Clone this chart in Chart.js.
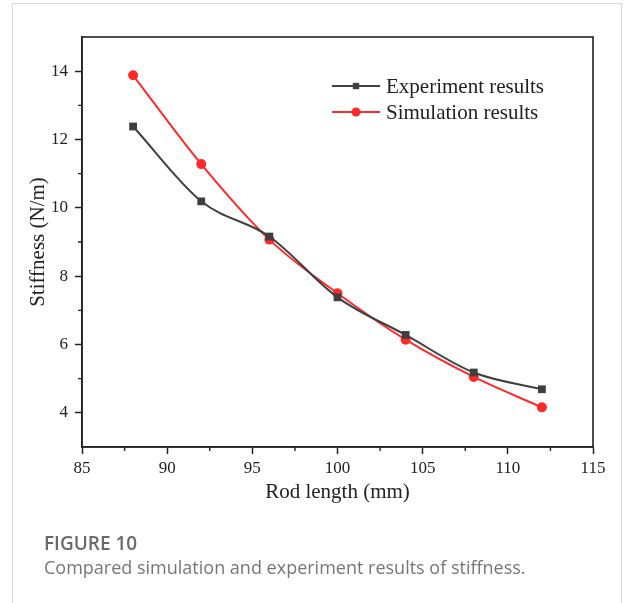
<!DOCTYPE html>
<html>
<head>
<meta charset="utf-8">
<script src="https://cdn.jsdelivr.net/npm/chart.js@4"></script>
<style>
  html, body { margin: 0; padding: 0; background: #fff; width: 624px; height: 603px; overflow: hidden; }
  #frame { position: absolute; left: 12px; top: 3px; width: 610px; height: 640px; border: 1px solid #d9d9d9; box-sizing: border-box; }
  #c { position: absolute; left: 0; top: 0; }
  #figlabel { position: absolute; left: 44px; top: 530px; font-family: 'Open Sans', sans-serif; font-weight: 600; font-size: 19px; color: #6a6a6a; }
  #figcap { position: absolute; left: 44px; top: 555px; font-family: 'Open Sans', sans-serif; font-size: 18px; color: #767676; }
</style>
</head>
<body>
<div id="frame"></div>
<canvas id="c" width="624" height="603"></canvas>
<div id="figlabel">FIGURE 10</div>
<div id="figcap">Compared simulation and experiment results of stiffness.</div>
<script>
const rodLength = [88, 92, 96, 100, 104, 108, 112];
const experimentStiffness = [12.38, 10.19, 9.16, 7.38, 6.28, 5.18, 4.69];
const simulationStiffness = [13.88, 11.28, 9.07, 7.50, 6.14, 5.05, 4.16];
const xTickLabels = [85, 90, 95, 100, 105, 110, 115];
const yTickLabels = [4, 6, 8, 10, 12, 14];
const xMinorTicks = [87.5, 92.5, 97.5, 102.5, 107.5, 112.5];
const yMinorTicks = [5, 7, 9, 11, 13];
const seriesNames = ['Experiment results', 'Simulation results'];

const INK = '#222';
const serif = "'Liberation Serif', 'Times New Roman', serif";

const boxPlugin = {
  id: 'boxAndExtras',
  afterDraw(chart) {
    const ctx = chart.ctx;
    const a = chart.chartArea;
    const xs = chart.scales.x, ys = chart.scales.y;
    ctx.save();
    ctx.strokeStyle = INK;
    ctx.lineWidth = 1.6;
    ctx.strokeRect(a.left, a.top, a.right - a.left, a.bottom - a.top);
    ctx.lineWidth = 1.4;
    ctx.beginPath();
    xMinorTicks.forEach(v => {
      const px = xs.getPixelForValue(v);
      ctx.moveTo(px, a.bottom);
      ctx.lineTo(px, a.bottom + 4);
    });
    yMinorTicks.forEach(v => {
      const py = ys.getPixelForValue(v);
      ctx.moveTo(a.left, py);
      ctx.lineTo(a.left - 4, py);
    });
    ctx.stroke();
    const lx0 = 332, lx1 = 380;
    const rows = [86, 112];
    chart.data.datasets.forEach((ds, i) => {
      const y = rows[i];
      ctx.strokeStyle = ds.borderColor;
      ctx.lineWidth = 2;
      ctx.beginPath();
      ctx.moveTo(lx0, y);
      ctx.lineTo(lx1, y);
      ctx.stroke();
      ctx.fillStyle = ds.pointBackgroundColor;
      ctx.strokeStyle = ds.pointBackgroundColor;
      Chart.helpers.drawPoint(ctx, {pointStyle: ds.pointStyle, radius: 4.5, rotation: 0, borderWidth: 0}, (lx0 + lx1) / 2, y);
      ctx.fillStyle = INK;
      ctx.font = '21px ' + serif;
      ctx.textBaseline = 'middle';
      ctx.textAlign = 'left';
      ctx.fillText(ds.label, 386, y + 1);
    });
    ctx.restore();
  }
};

new Chart(document.getElementById('c'), {
  type: 'line',
  data: {
    datasets: [
      {
        label: seriesNames[0],
        data: rodLength.map((x, i) => ({x, y: experimentStiffness[i]})),
        borderColor: '#3f3f3f',
        backgroundColor: '#3f3f3f',
        pointBackgroundColor: '#3f3f3f',
        pointBorderWidth: 0,
        pointStyle: 'rect',
        pointRadius: 5.5,
        borderWidth: 2,
        cubicInterpolationMode: 'monotone'
      },
      {
        label: seriesNames[1],
        data: rodLength.map((x, i) => ({x, y: simulationStiffness[i]})),
        borderColor: '#ff2a2a',
        backgroundColor: '#ff2a2a',
        pointBackgroundColor: '#ff2a2a',
        pointBorderWidth: 0,
        pointStyle: 'circle',
        pointRadius: 5,
        borderWidth: 2,
        cubicInterpolationMode: 'monotone'
      }
    ]
  },
  options: {
    responsive: false,
    animation: false,
    devicePixelRatio: 1,
    layout: { padding: { left: 22, top: 37, right: 31, bottom: 94 } },
    plugins: { legend: { display: false }, tooltip: { enabled: false } },
    scales: {
      x: {
        type: 'linear',
        min: 85, max: 115,
        afterFit: s => { s.height = 62; },
        afterBuildTicks: s => { s.ticks = xTickLabels.map(v => ({value: v})); },
        grid: { drawOnChartArea: false, tickLength: 7, tickColor: INK, tickWidth: 1.5 },
        border: { color: INK, width: 1.6 },
        ticks: { color: INK, font: { family: serif, size: 17 }, padding: 4, maxRotation: 0 },
        title: { display: true, text: 'Rod length (mm)', color: INK, font: { family: serif, size: 21 } }
      },
      y: {
        type: 'linear',
        min: 3, max: 15,
        afterFit: s => { s.width = 60; },
        afterBuildTicks: s => { s.ticks = yTickLabels.map(v => ({value: v})); },
        grid: { drawOnChartArea: false, tickLength: 7, tickColor: INK, tickWidth: 1.5 },
        border: { color: INK, width: 1.6 },
        ticks: { color: INK, font: { family: serif, size: 17 }, padding: 7 },
        title: { display: true, text: 'Stiffness (N/m)', color: INK, font: { family: serif, size: 21 } }
      }
    }
  },
  plugins: [boxPlugin]
});
</script>
</body>
</html>
